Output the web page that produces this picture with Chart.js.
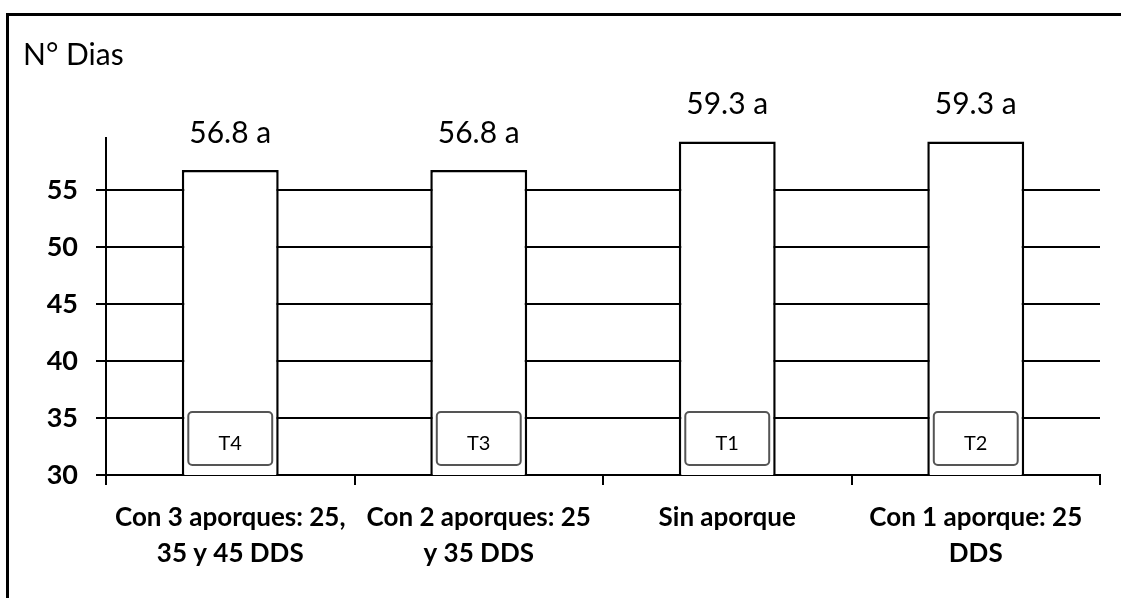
<!DOCTYPE html>
<html>
<head>
<meta charset="utf-8">
<script src="https://cdn.jsdelivr.net/npm/chart.js@4.4.0/dist/chart.umd.min.js"></script>
<style>
  html, body { margin: 0; padding: 0; background: #fff; }
  #wrap { position: relative; width: 1121px; height: 598px; overflow: hidden; }
  #frame {
    position: absolute; left: 6px; top: 13px; width: 1200px; height: 700px;
    border-top: 3px solid #000; border-left: 3px solid #000;
  }
  #chart { position: absolute; left: 0; top: 0; }
</style>
</head>
<body>
<div id="wrap">
  <div id="frame"></div>
  <canvas id="chart" width="1121" height="598"></canvas>
</div>
<script>
/* --------------- Datos --------------- */
const categories = [
  ["Con 3 aporques: 25,", "35 y 45 DDS"],
  ["Con 2 aporques: 25", "y 35 DDS"],
  ["Sin aporque"],
  ["Con 1 aporque: 25", "DDS"],
];
const values = [56.8, 56.8, 59.3, 59.3];
const letters = ["a", "a", "a", "a"];
const treatments = ["T4", "T3", "T1", "T2"];
const yTicks = [30, 35, 40, 45, 50, 55];
const yTitle = "N° Dias";

// caja con esquinas redondeadas
function boxPath(ctx, x, y, w, h, r) {
  ctx.beginPath();
  ctx.moveTo(x + r, y);
  ctx.lineTo(x + w - r, y);
  ctx.arcTo(x + w, y, x + w, y + r, r);
  ctx.lineTo(x + w, y + h - r);
  ctx.arcTo(x + w, y + h, x + w - r, y + h, r);
  ctx.lineTo(x + r, y + h);
  ctx.arcTo(x, y + h, x, y + h - r, r);
  ctx.lineTo(x, y + r);
  ctx.arcTo(x, y, x + r, y, r);
  ctx.closePath();
}

/* --------------- Etiquetas sobre las barras y cajas T --------------- */
const barLabels = {
  id: "barLabels",
  afterDatasetsDraw(chart) {
    const ctx = chart.ctx;
    const meta = chart.getDatasetMeta(0);
    const base = chart.chartArea.bottom;
    ctx.save();
    meta.data.forEach((bar, i) => {
      const p = bar.getProps(["x", "y", "width"], true);
      ctx.fillStyle = "#000";
      ctx.textAlign = "center";
      ctx.textBaseline = "middle";
      // valor + letra
      ctx.font = "30px Lato";
      ctx.fillText(values[i] + " " + letters[i], p.x, p.y - 37);

      // caja del tratamiento
      const w = p.width - 13;
      const bottom = base - 10;
      const top = bottom - 53;
      boxPath(ctx, p.x - w / 2, top, w, bottom - top, 4);
      ctx.fillStyle = "#fff";
      ctx.fill();
      ctx.lineWidth = 2;
      ctx.strokeStyle = "#555";
      ctx.stroke();
      ctx.fillStyle = "#000";
      ctx.font = "20px Lato";
      ctx.fillText(treatments[i], p.x, top + 32);
    });
    // titulo del eje
    ctx.textAlign = "left";
    ctx.textBaseline = "middle";
    ctx.font = "30px Lato";
    ctx.fillStyle = "#000";
    ctx.fillText(yTitle, 23, 55);
    ctx.restore();
  },
};

/* --------------- Chart --------------- */
new Chart(document.getElementById("chart"), {
  type: "bar",
  plugins: [barLabels],
  data: {
    labels: categories,
    datasets: [
      {
        data: values,
        backgroundColor: "#fff",
        borderColor: "#000",
        borderWidth: 2.5,
        borderSkipped: false,
        categoryPercentage: 1,
        barPercentage: 0.39,
      },
    ],
  },
  options: {
    responsive: false,
    animation: false,
    layout: { padding: { top: 138, right: 21, left: 0, bottom: 0 } },
    plugins: {
      legend: { display: false },
      tooltip: { enabled: false },
    },
    scales: {
      x: {
        grid: { drawOnChartArea: false, color: "#000", lineWidth: 2, tickLength: 10, offset: true },
        border: { color: "#000", width: 2 },
        ticks: {
          color: "#000",
          padding: 15,
          maxRotation: 0,
          autoSkip: false,
          font: { family: "Lato", weight: "bold", size: 26, lineHeight: 1.38 },
        },
        afterFit: (s) => { s.height = 123; },
      },
      y: {
        min: 30,
        max: 59.6,
        afterBuildTicks: (s) => { s.ticks = yTicks.map((v) => ({ value: v })); },
        grid: { color: "#000", lineWidth: 2, tickLength: 10 },
        border: { color: "#000", width: 2 },
        ticks: {
          color: "#000",
          padding: 18,
          font: { family: "Lato", weight: "bold", size: 27 },
        },
        afterFit: (s) => { s.width = 106; },
      },
    },
  },
});
</script>
</body>
</html>
